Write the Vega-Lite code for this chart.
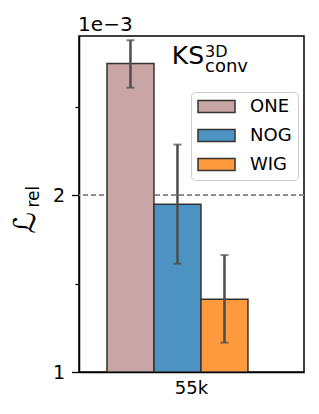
{
  "$schema": "https://vega.github.io/schema/vega-lite/v6.json",
  "width": 225,
  "height": 336,
  "autosize": {"type": "none"},
  "padding": {"left": 79, "top": 36, "right": 15, "bottom": 42},
  "config": {
    "font": "DejaVu Sans",
    "view": {"stroke": "#000000", "strokeWidth": 1.5},
    "axis": {"labelFont": "DejaVu Sans", "labelColor": "#000000", "domainColor": "#000000", "tickColor": "#000000", "grid": false}
  },
  "datasets": {
    "bars": [
      {"size": "55k", "method": "ONE", "value": 0.002744, "lo": 0.002608, "hi": 0.002876},
      {"size": "55k", "method": "NOG", "value": 0.001949, "lo": 0.001612, "hi": 0.002286},
      {"size": "55k", "method": "WIG", "value": 0.001412, "lo": 0.001166, "hi": 0.001661}
    ],
    "one": [{"k": 1}]
  },
  "layer": [
    {
      "data": {"name": "bars"},
      "encoding": {
        "x": {"field": "size", "type": "nominal", "scale": {"paddingInner": 0, "paddingOuter": 0},
              "axis": {"title": null, "labelAngle": 0, "labelFontSize": 18, "ticks": false, "tickSize": 0, "labelPadding": 7, "domainWidth": 1.5}},
        "xOffset": {"field": "method", "type": "nominal", "scale": {"domain": ["ONE", "NOG", "WIG"], "paddingInner": 0, "paddingOuter": 0.894, "align": 0.333}}
      },
      "layer": [
        {
          "mark": {"type": "rule", "color": "#888888", "strokeWidth": 1.3, "strokeDash": [5, 3]},
          "encoding": {"y": {"datum": 0.002, "type": "quantitative"}, "x": null, "xOffset": null}
        },
        {
          "mark": {"type": "bar", "stroke": "#333333", "strokeWidth": 1.5, "opacity": 1, "clip": true},
          "encoding": {
            "y": {"field": "value", "type": "quantitative",
                  "scale": {"domain": [0.001, 0.0029], "zero": false, "clamp": true, "nice": false},
                  "axis": {"title": null, "values": [0.001, 0.0015, 0.002, 0.0025],
                           "labelExpr": "abs(datum.value*1000 - round(datum.value*1000)) < 0.01 ? format(datum.value*1000, 'd') : ''",
                           "labelFontSize": 19, "labelPadding": 7, "domainWidth": 1.5, "tickWidth": 1.3,
                           "tickSize": {"condition": {"test": "abs(datum.value*1000 - round(datum.value*1000)) < 0.01", "value": 7.5}, "value": 4}}},
            "y2": {"datum": 0.001},
            "color": {"field": "method", "type": "nominal",
                      "scale": {"domain": ["ONE", "NOG", "WIG"], "range": ["#c9a5a5", "#4c92c3", "#ff993e"]},
                      "legend": {"title": null, "orient": "none", "legendX": 112, "legendY": 56,
                                 "padding": 6, "fillColor": "#ffffff", "strokeColor": "#cccccc", "cornerRadius": 4,
                                 "labelFontSize": 18, "labelFont": "DejaVu Sans", "labelColor": "#000000",
                                 "symbolType": "M-1,-0.32H1V0.32H-1Z", "symbolSize": 1369,
                                 "symbolStrokeColor": "#333333", "symbolStrokeWidth": 1.5, "symbolOpacity": 1,
                                 "clipHeight": 17, "rowPadding": 10, "labelOffset": 14, "symbolOffset": 0}}
          }
        },
        {
          "mark": {"type": "rule", "color": "#4d4d4d", "strokeWidth": 2.5},
          "encoding": {"y": {"field": "lo", "type": "quantitative"}, "y2": {"field": "hi"}}
        },
        {
          "mark": {"type": "tick", "color": "#4d4d4d", "size": 8, "thickness": 2},
          "encoding": {"y": {"field": "lo", "type": "quantitative"}}
        },
        {
          "mark": {"type": "tick", "color": "#4d4d4d", "size": 8, "thickness": 2},
          "encoding": {"y": {"field": "hi", "type": "quantitative"}}
        }
      ]
    },
    {
      "data": {"name": "one"},
      "mark": {"type": "text", "text": "KS", "fontSize": 25, "align": "right", "baseline": "alphabetic", "color": "#000000"},
      "encoding": {
        "x": {"datum": 0.5556, "type": "quantitative", "scale": {"domain": [0, 1], "nice": false, "zero": false}, "axis": null},
        "y": {"datum": 0.9167, "type": "quantitative", "scale": {"domain": [0, 1], "nice": false, "zero": false}, "axis": null}
      }
    },
    {
      "data": {"name": "one"},
      "mark": {"type": "text", "text": "3D", "fontSize": 16, "align": "left", "baseline": "alphabetic", "color": "#000000"},
      "encoding": {
        "x": {"datum": 0.56, "type": "quantitative", "scale": {"domain": [0, 1], "nice": false, "zero": false}, "axis": null},
        "y": {"datum": 0.9384, "type": "quantitative", "scale": {"domain": [0, 1], "nice": false, "zero": false}, "axis": null}
      }
    },
    {
      "data": {"name": "one"},
      "mark": {"type": "text", "text": "conv", "fontSize": 18, "align": "left", "baseline": "alphabetic", "color": "#000000"},
      "encoding": {
        "x": {"datum": 0.56, "type": "quantitative", "scale": {"domain": [0, 1], "nice": false, "zero": false}, "axis": null},
        "y": {"datum": 0.892, "type": "quantitative", "scale": {"domain": [0, 1], "nice": false, "zero": false}, "axis": null}
      }
    },
    {
      "data": {"name": "one"},
      "mark": {"type": "text", "text": "1e−3", "fontSize": 20, "align": "left", "baseline": "alphabetic", "color": "#000000"},
      "encoding": {
        "x": {"datum": -0.004, "type": "quantitative", "scale": {"domain": [0, 1], "nice": false, "zero": false}, "axis": null},
        "y": {"datum": 1.0158, "type": "quantitative", "scale": {"domain": [0, 1], "nice": false, "zero": false}, "axis": null}
      }
    },
    {
      "data": {"name": "one"},
      "mark": {"type": "text", "text": "ℒ", "fontSize": 30, "align": "left", "baseline": "alphabetic", "angle": 270, "color": "#000000"},
      "encoding": {
        "x": {"datum": -0.1956, "type": "quantitative", "scale": {"domain": [0, 1], "nice": false, "zero": false}, "axis": null},
        "y": {"datum": 0.412, "type": "quantitative", "scale": {"domain": [0, 1], "nice": false, "zero": false}, "axis": null}
      }
    },
    {
      "data": {"name": "one"},
      "mark": {"type": "text", "text": "rel", "fontSize": 17, "align": "left", "baseline": "alphabetic", "angle": 270, "color": "#000000"},
      "encoding": {
        "x": {"datum": -0.178, "type": "quantitative", "scale": {"domain": [0, 1], "nice": false, "zero": false}, "axis": null},
        "y": {"datum": 0.4896, "type": "quantitative", "scale": {"domain": [0, 1], "nice": false, "zero": false}, "axis": null}
      }
    }
  ],
  "resolve": {"scale": {"x": "independent", "y": "independent", "color": "independent"}}
}
